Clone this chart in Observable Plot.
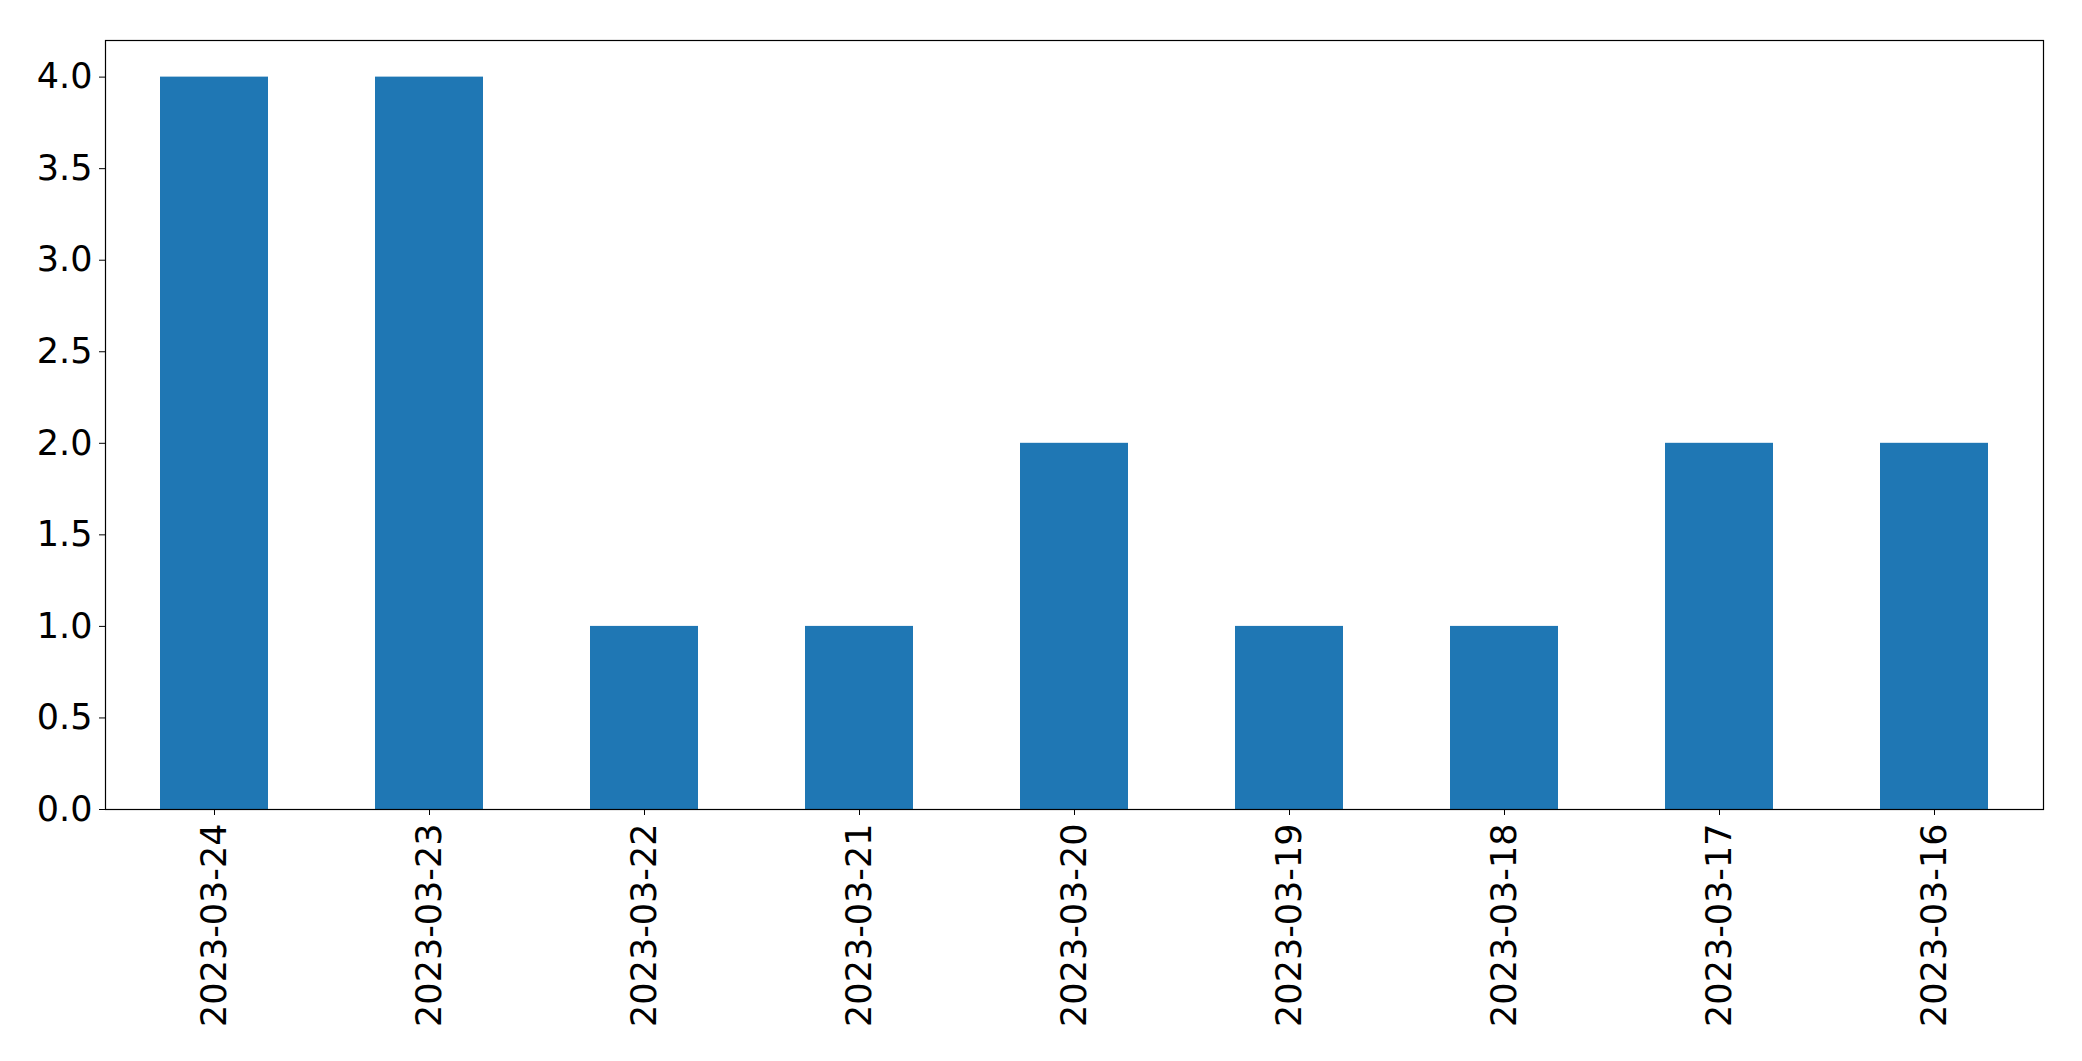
<!DOCTYPE html>
<html>
<head>
<meta charset="utf-8">
<script src="https://cdn.jsdelivr.net/npm/d3@7"></script>
<script src="https://cdn.jsdelivr.net/npm/@observablehq/plot@0.6"></script>
<style>
  html, body { margin: 0; padding: 0; background: #fff; }
  svg { display: block; }
</style>
</head>
<body>
<div id="chart"></div>
<script>
const dates = ["2023-03-24","2023-03-23","2023-03-22","2023-03-21","2023-03-20","2023-03-19","2023-03-18","2023-03-17","2023-03-16"];
const counts = [4, 4, 1, 1, 2, 1, 1, 2, 2];
const yTicks = [0, 0.5, 1, 1.5, 2, 2.5, 3, 3.5, 4];

const data = dates.map((d, i) => ({date: d, count: counts[i]}));

const chart = Plot.plot({
  width: 2082,
  height: 1061,
  marginLeft: 105,
  marginRight: 39,
  marginTop: 40,
  marginBottom: 252,
  style: {fontFamily: "DejaVu Sans", fontSize: "35px", color: "#000", background: "#fff"},
  x: {domain: dates, paddingInner: 0.5, paddingOuter: 0.25, label: null},
  y: {domain: [0, 4.2], label: null},
  marks: [
    Plot.barY(data, {x: "date", y: "count", fill: "#1f77b4"}),
    Plot.axisY({ticks: yTicks, tickFormat: d => d.toFixed(1), tickSize: 6, tickPadding: 7, fontSize: 35, stroke: "#000", label: null}),
    Plot.axisX({tickRotate: -90, tickSize: 6, tickPadding: 8, fontSize: 35, stroke: "#000", label: null}),
    Plot.frame({stroke: "#000", strokeWidth: 1.2})
  ]
});
document.getElementById("chart").appendChild(chart);
</script>
</body>
</html>
